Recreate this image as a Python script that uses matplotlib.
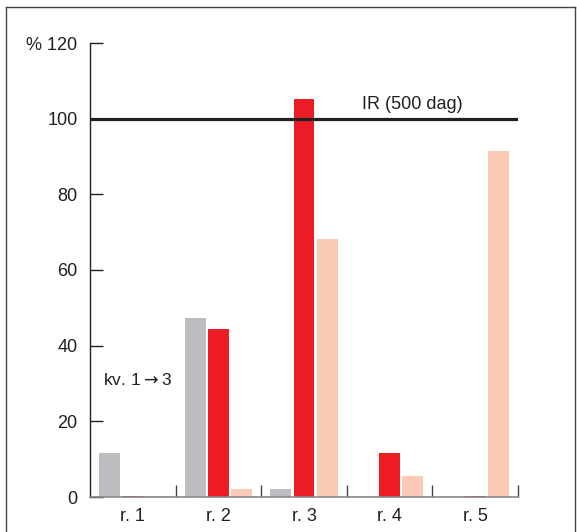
import matplotlib
matplotlib.use("Agg")
import matplotlib.pyplot as plt
from matplotlib.lines import Line2D
import numpy as np

plt.rcParams['font.family'] = ['Liberation Sans', 'DejaVu Sans']

# donnees
rangs = ['r. 1', 'r. 2', 'r. 3', 'r. 4', 'r. 5']
kv1 = [11.5, 47.3, 2.1, 0, 0]
kv2 = [0.3, 44.4, 105.2, 11.7, 0.3]
kv3 = [0.3, 2.1, 68.2, 5.5, 91.5]
y_ticks = [0, 20, 40, 60, 80, 100, 120]
y_labels = ['0', '20', '40', '60', '80', '100', '% 120']

gris, rouge, rose = '#bcbdc0', '#ed1c24', '#fbcab5'
noir = '#231f20'

fig = plt.figure(figsize=(5.77, 5.32), dpi=100)
ax = fig.add_axes([90/577, 35/532, 428/577, 454/532])

x = np.arange(len(rangs)) + 0.5
w, pas = 0.245, 0.27
ax.bar(x - pas, kv1, w, color=gris, zorder=2)
ax.bar(x, kv2, w, color=rouge, zorder=2)
ax.bar(x + pas, kv3, w, color=rose, zorder=2)

# ligne IR
ax.plot([0, 5], [100, 100], color=noir, lw=2.3, zorder=3, solid_capstyle='butt')
ax.text(3.77, 101.5, 'IR (500 dag)', ha='center', va='bottom', fontsize=13, color=noir)
ax.text(0.15, 31, 'kv. 1$\\rightarrow$3', ha='left', va='center', fontsize=12.5, color=noir)

ax.set_xlim(0, 5)
ax.set_ylim(0, 120)
ax.set_yticks(y_ticks)
ax.set_yticklabels(y_labels, fontsize=13, color=noir)
ax.tick_params(axis='y', direction='in', length=9, width=1, color=noir, pad=9)
ax.set_xticks(x)
ax.set_xticklabels(rangs, fontsize=13, color=noir)
ax.tick_params(axis='x', which='major', length=0, pad=8)
ax.set_xticks([1, 2, 3, 4, 5], minor=True)
ax.tick_params(axis='x', which='minor', direction='in', length=9, width=1, color='#444444')

for s in ['top', 'right']:
    ax.spines[s].set_visible(False)
ax.spines['left'].set_color(noir)
ax.spines['bottom'].set_color('#888888')
ax.spines['left'].set_linewidth(1)
ax.spines['bottom'].set_linewidth(1.2)

# cadre de la figure
W, H = 577, 532
for xs, ys in [([6, 6], [0, 525]), ([6, 575], [525, 525]), ([575, 575], [525, 0])]:
    fig.add_artist(Line2D(np.array(xs)/W, np.array(ys)/H, color='#444444', lw=1))

fig.savefig('out.png', dpi=100)
